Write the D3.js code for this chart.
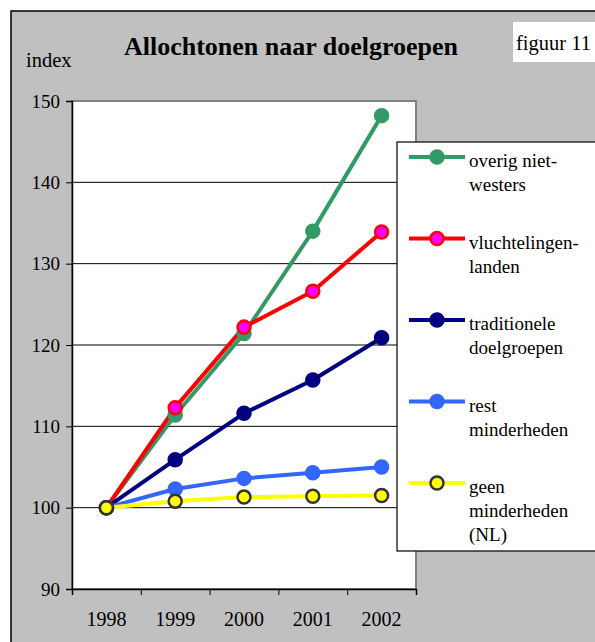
<!DOCTYPE html>
<html>
<head>
<meta charset="utf-8">
<script src="https://cdn.jsdelivr.net/npm/d3@7"></script>
<style>
body{margin:0;background:#fff;}
</style>
</head>
<body>
<div id="chart"></div>
<script>
let years=["1998","1999","2000","2001","2002"];
let overig=[100,111.4,121.4,134.0,148.2];
let vlucht=[100,112.3,122.2,126.6,133.9];
let tradit=[100,105.9,111.6,115.7,120.9];
let rest=[100,102.3,103.6,104.3,105.0];
let geen=[100,100.8,101.3,101.4,101.5];
let yTicks=[90,100,110,120,130,140,150];

let seriesNames=[["overig niet-","westers"],["vluchtelingen-","landen"],["traditionele","doelgroepen"],["rest","minderheden"],["geen","minderheden","(NL)"]];
let seriesData=[overig,vlucht,tradit,rest,geen];
let lineColors=["#339966","#ff0000","#000080","#3366ff","#ffff00"];
let markFill=["#339966","#ff00ff","#000080","#3366ff","#ffff00"];
let markStroke=["#339966","#ff0000","#000080","#3366ff","#333333"];

let width=595, height=642;
let pLeft=72, pRight=416, pTop=101, pBottom=589;
let fam="Times New Roman, Liberation Serif, DejaVu Serif, serif";
function txt(sel,size,bold){
  return sel.attr("font-family",fam).attr("font-size",size).attr("font-weight",bold?"bold":"normal")
  .style("font-family",fam).style("font-size",size+"px").attr("fill","#000");
}

let svg=d3.select("#chart").append("svg")
.attr("width",width).attr("height",height)
.attr("font-family",fam);

// chart background
svg.append("rect").attr("x",11).attr("y",11).attr("width",width).attr("height",height)
.attr("fill","#c0c0c0").attr("stroke","#000").attr("stroke-width",1.5);

let x=d3.scaleBand().domain(years).range([pLeft,pRight]).padding(0);
let xEdge=d3.scaleLinear().domain([0,years.length]).range([pLeft,pRight]);
let y=d3.scaleLinear().domain([90,150]).range([pBottom,pTop]);

// plot area
svg.append("rect").attr("x",pLeft).attr("y",pTop).attr("width",pRight-pLeft).attr("height",pBottom-pTop)
.attr("fill","#fff").attr("stroke","#808080").attr("stroke-width",2);

// gridlines
svg.append("g").selectAll("line").data(yTicks.filter(d=>d>90&&d<150)).enter().append("line")
.attr("x1",pLeft).attr("x2",pRight).attr("y1",d=>y(d)).attr("y2",d=>y(d))
.attr("stroke","#000").attr("stroke-width",1);

// axes (lines and ticks only)
let gy=svg.append("g").attr("transform","translate("+pLeft+",0)")
.call(d3.axisLeft(y).tickValues(yTicks).tickSize(6).tickFormat(""));
gy.select(".domain").attr("stroke","#000").attr("stroke-width",1.5);

let gx=svg.append("g").attr("transform","translate(0,"+pBottom+")")
.call(d3.axisBottom(xEdge).tickValues(d3.range(years.length+1)).tickSize(6).tickFormat(""));
gx.select(".domain").attr("stroke","#000").attr("stroke-width",1.5);

// tick labels
txt(svg.selectAll("text.ylab").data(yTicks).enter().append("text").attr("class","ylab")
.attr("x",pLeft-12).attr("y",d=>y(d)+6.5).attr("text-anchor","end"),19).text(d=>d);
txt(svg.selectAll("text.xlab").data(years).enter().append("text").attr("class","xlab")
.attr("x",d=>x(d)+x.bandwidth()/2).attr("y",pBottom+37).attr("text-anchor","middle"),20).text(d=>d);

// lines and markers
let line=d3.line().x((d,i)=>x(years[i])+x.bandwidth()/2).y(d=>y(d));
seriesData.forEach(function(s,k){
  svg.append("path").datum(s).attr("d",line).attr("fill","none")
  .attr("stroke",lineColors[k]).attr("stroke-width",4).attr("stroke-linejoin","round");
});
seriesData.forEach(function(s,k){
  svg.append("g").selectAll("circle").data(s).enter().append("circle")
  .attr("cx",(d,i)=>x(years[i])+x.bandwidth()/2).attr("cy",d=>y(d)).attr("r",6.5)
  .attr("fill",markFill[k]).attr("stroke",markStroke[k]).attr("stroke-width",2.5);
});

// legend
let lgX=397, lgY=142;
svg.append("rect").attr("x",lgX).attr("y",lgY).attr("width",220).attr("height",409)
.attr("fill","#fff").attr("stroke","#000").attr("stroke-width",1.2);
seriesNames.forEach(function(n,k){
  let cy=lgY+15+k*81.5;
  svg.append("line").attr("x1",lgX+12).attr("x2",lgX+68).attr("y1",cy).attr("y2",cy)
  .attr("stroke",lineColors[k]).attr("stroke-width",4);
  svg.append("circle").attr("cx",lgX+40).attr("cy",cy).attr("r",6.5)
  .attr("fill",markFill[k]).attr("stroke",markStroke[k]).attr("stroke-width",2.5);
  n.forEach(function(s,j){
    txt(svg.append("text").attr("x",lgX+72).attr("y",cy+10+j*24),19).text(s);
  });
});

// titles
txt(svg.append("text").attr("x",291).attr("y",55).attr("text-anchor","middle"),26,true)
.text("Allochtonen naar doelgroepen");
txt(svg.append("text").attr("x",26).attr("y",67),20.5).text("index");
svg.append("rect").attr("x",513).attr("y",22).attr("width",90).attr("height",40).attr("fill","#fff");
txt(svg.append("text").attr("x",516).attr("y",50),20.5).text("figuur 11");
</script>
</body>
</html>
